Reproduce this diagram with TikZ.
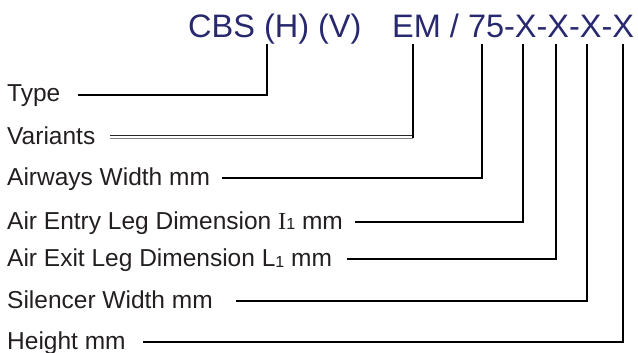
\documentclass[tikz,border=0pt]{standalone}
\usepackage{fontspec}
\setmainfont{Liberation Sans}
\newfontfamily\serifI{Liberation Serif}
\definecolor{navy}{RGB}{40,40,110}
\definecolor{labelgrey}{RGB}{35,31,32}
\newcommand{\subone}{\raisebox{-1pt}{\fontsize{16}{16}\selectfont 1}}
\begin{document}
\begin{tikzpicture}[x=1pt,y=-1pt,
  title/.style={font=\fontsize{32.5}{34}\selectfont, text=navy, inner sep=0pt, anchor=base west},
  lbl/.style={font=\fontsize{24.5}{26}\selectfont, text=labelgrey, inner sep=0pt, anchor=west, text height=14pt, text depth=0pt},
  lead/.style={line width=2.6pt, draw=black},
  dbltop/.style={draw=black!85, line width=0.9pt},
  dblbot/.style={draw=black!50, line width=0.9pt}]
\useasboundingbox (0,0) rectangle (638,353);
% title
\node[title] (t1) at (188,37.5) {CBS (H) (V)};
\node[title] (t2) at (392,37.5) {EM / 75-X-X-X-X};
% connector tops under the code
\coordinate (pH) at (267,44);
\coordinate (pV) at (413,44);
\coordinate (p75) at (482,44);
\coordinate (pX1) at (523,44);
\coordinate (pX2) at (556,44);
\coordinate (pX3) at (587,44);
\coordinate (pX4) at (623,44);
% labels
\node[lbl] (type) at (7,95) {Type};
\node[lbl] (var) at (7,137) {Variants};
\node[lbl] (aw) at (7,178) {Airways Width mm};
\node[lbl] (ent) at (7,222) {Air Entry Leg Dimension {\serifI I}\subone\ mm};
\node[lbl] (ext) at (7,259) {Air Exit Leg Dimension L\subone\ mm};
\node[lbl] (sil) at (7,301) {Silencer Width mm};
\node[lbl] (hgt) at (7,342) {Height mm};
% connectors
\draw[lead] ([xshift=17pt]type.east) -| (pH);
\coordinate (vC) at (413,137);
\draw[dbltop] ([xshift=15pt,yshift=1.2pt]var.east) -- ([yshift=1.2pt]vC);
\draw[dblbot] ([xshift=15pt,yshift=-1.3pt]var.east) -- ([yshift=-1.3pt]vC);
\draw[lead] ([yshift=-0.8pt]vC) -- (pV);
\draw[lead] ([xshift=12pt]aw.east) -| (p75);
\draw[lead] ([xshift=12pt]ent.east) -| (pX1);
\draw[lead] ([xshift=15pt]ext.east) -| (pX2);
\draw[lead] ([xshift=23pt]sil.east) -| (pX3);
\draw[lead] ([xshift=17pt]hgt.east) -| (pX4);
\end{tikzpicture}
\end{document}
